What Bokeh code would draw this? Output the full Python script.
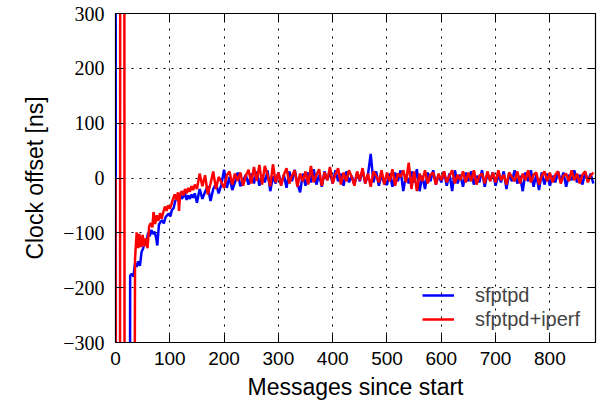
from bokeh.plotting import figure
from bokeh.models import FixedTicker, LinearAxis, Range1d, Legend, LegendItem, CustomJSTickFormatter
from bokeh.embed import file_html
from bokeh.resources import INLINE

# ---- data ----
x_ticks = [0, 100, 200, 300, 400, 500, 600, 700, 800]
y_ticks = [-300, -200, -100, 0, 100, 200, 300]

blue_early_msg = [0, 1, 26, 27, 30, 33, 36, 39, 42, 45, 48, 51, 54, 57, 60, 63, 66, 69,
                  72, 75, 77, 80, 83, 86, 89, 92, 95, 98, 101, 104, 107, 110, 113, 116,
                  119, 122, 125, 128, 131, 134, 137, 140, 143, 146]
blue_early_val = [1000, -1000, -1000, -178, -175, -180, -155, -162, -152, -160, -135, -128,
                  -114, -118, -100, -106, -95, -102, -98, -110, -123, -85, -80, -77, -83,
                  -72, -68, -65, -70, -58, -55, -42, -36, -40, -30, -38, -34, -28, -40,
                  -32, -38, -30, -36, -28]

red_early_msg = [0, 1, 8, 9, 16, 17, 34, 36, 39, 42, 44, 47, 50, 53, 56, 59, 62, 65, 68,
                 70, 73, 76, 79, 82, 85, 88, 91, 94, 97, 100, 103, 106, 109, 112, 115,
                 117, 119, 122, 125, 128, 131, 134, 137, 140, 143, 146]
red_early_val = [0, -1000, -1000, 1000, 1000, -1000, -1000, -147, -99, -128, -102, -126,
                 -104, -125, -110, -128, -88, -82, -90, -62, -84, -68, -78, -64, -74, -62,
                 -52, -60, -50, -56, -48, -38, -30, -40, -26, -60, -30, -24, -32, -20,
                 -28, -18, -25, -15, -22, -12]

late_msg = list(range(150, 881, 5))

blue_late_val = [
    -45, -20, -38, -25, -15, -42, -20, -10, -28, -12,
    15, -18, 2, -22, -8, 10, -15, -5, 6, -12,
    8, -10, 12, -14, 5, -8, 14, -24, 3, -10,
    10, -12, 6, -18, 12, -6, 15, -10, -26, 8,
    -14, 10, -8, 16, -12, 6, -16, 12, -4, 10,
    -10, 14, -6, 8, -14, 12, -8, 4, -12, 10,
    -6, 14, -10, 6, 44, -8, 12, -14, 6, -10,
    -12, 8, -16, 10, -6, 14, -24, 6, -10, 12,
    -8, 16, -24, 4, -20, 10, -6, 14, -12, 6,
    -8, 12, -14, 8, -24, 14, -10, 6, -16, 10,
    -6, 12, -12, 4, -8, 14, -16, 8, -4, 10,
    -14, 6, -8, 12, -20, 8, -6, 14, -10, 4,
    -24, 10, -6, 14, -16, 6, -22, 10, -12, 8,
    -14, 4, -8, 12, -6, 10, -16, 6, -4, 14,
    -8, 6, -12, 10, -6, 8, -10,
]

red_late_val = [
    -20, 8, -15, 5, -30, -10, 12, -20, 2, -8,
    -18, 5, 12, -12, 8, -5, 10, -14, 4, 15,
    -10, 20, -5, 24, -12, 22, 6, -15, 25, -8,
    10, -14, 6, 18, -10, 4, 14, -16, 8, -6,
    12, -12, 22, -8, 6, 16, -14, 10, -4, 20,
    -10, 6, 18, -12, 10, -6, 14, 2, -14, 12,
    -4, 18, -10, 8, -16, 12, 4, -8, 14, -12,
    10, -6, 16, -14, 8, 2, 14, -8, 28, -20,
    12, -24, 8, -6, 14, -10, 6, 10, -12, 8,
    -4, 12, -8, 4, 14, -10, 6, -4, 12, -8,
    10, -6, 14, -12, 4, 8, -10, 12, -6, 10,
    -8, 14, -4, 6, -12, 10, 2, -6, 12, -10,
    8, -4, 14, -8, 6, 10, -12, 4, 12, -6,
    10, -8, 6, 12, -10, 4, 8, -6, 14, -4,
    8, -10, 6, 12, -8, 4, 10,
]

series_labels = ["sfptpd", "sfptpd+iperf"]
series_colors = ["#0000ff", "#ff0000"]

blue_x = blue_early_msg + late_msg
blue_y = blue_early_val + blue_late_val
red_x = red_early_msg + late_msg
red_y = red_early_val + red_late_val

# ---- figure ----
SANS = "Liberation Sans"
SERIF = "Liberation Serif"

p = figure(width=608, height=411, x_range=Range1d(0, 884), y_range=Range1d(-300, 300),
           output_backend="svg", toolbar_location=None,
           min_border_left=115, min_border_right=13, min_border_top=13, min_border_bottom=69)
p.background_fill_color = "white"
p.border_fill_color = "white"
p.outline_line_color = "black"
p.outline_line_width = 1.2

xt = FixedTicker(ticks=x_ticks)
yt = FixedTicker(ticks=y_ticks)

xa = p.xaxis[0]
ya = p.yaxis[0]

xa.ticker = xt
xa.axis_label = "Messages since start"
xa.axis_label_text_font = SANS
xa.axis_label_text_font_size = "23px"
xa.axis_label_text_font_style = "normal"
xa.axis_label_standoff = 6
xa.major_label_text_font = SANS
xa.major_label_text_font_size = "19px"
xa.major_label_standoff = 9

ya.ticker = yt
ya.formatter = CustomJSTickFormatter(
    code="return tick < 0 ? '\\u2212' + Math.abs(tick) : String(tick);")
ya.axis_label = "Clock offset [ns]"
ya.axis_label_text_font = SANS
ya.axis_label_text_font_size = "23px"
ya.axis_label_text_font_style = "normal"
ya.axis_label_standoff = 12
ya.major_label_text_font = SERIF
ya.major_label_text_font_size = "20px"
ya.major_label_standoff = 11

for ax in (xa, ya):
    ax.axis_line_color = "black"
    ax.major_tick_in = 8
    ax.major_tick_out = 0
    ax.major_tick_line_color = "black"
    ax.minor_tick_line_color = None
    ax.major_label_text_color = "black"
    ax.axis_label_text_color = "black"

top = LinearAxis(ticker=xt, major_label_text_font_size="0px", major_label_standoff=0,
                 major_tick_in=8, major_tick_out=0, minor_tick_line_color=None,
                 axis_line_color="black")
right = LinearAxis(ticker=yt, major_label_text_font_size="0px", major_label_standoff=0,
                   major_tick_in=8, major_tick_out=0, minor_tick_line_color=None,
                   axis_line_color="black")
p.add_layout(top, "above")
p.add_layout(right, "right")

for g in (p.xgrid[0], p.ygrid[0]):
    g.grid_line_color = "black"
    g.grid_line_dash = "2 6"
    g.grid_line_width = 1

rb = p.line(blue_x, blue_y, line_color=series_colors[0], line_width=2.5)
rr = p.line(red_x, red_y, line_color=series_colors[1], line_width=2.5)

legend = Legend(items=[LegendItem(label=series_labels[0], renderers=[rb]),
                       LegendItem(label=series_labels[1], renderers=[rr])],
                location=(307, 11), border_line_color=None, background_fill_alpha=0,
                padding=0, spacing=0, margin=0, glyph_width=32, glyph_height=24,
                label_height=24, label_standoff=21, label_text_font=SANS,
                label_text_font_size="20px")
p.add_layout(legend)

open("out.html", "w").write(file_html(p, INLINE))
